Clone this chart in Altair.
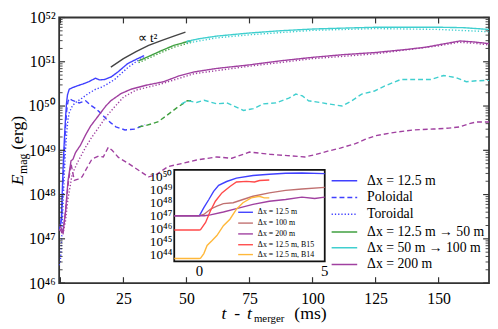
import altair as alt
import pandas as pd

# ---------------- main panel data: t - t_merger (ms), log10(E_mag / erg) ----------------
t_hr_tot = [-0.5, 0, 0.4, 0.8, 1.2, 1.6, 2.0, 2.4, 2.8, 3.5, 5, 7.4, 9, 11.3, 13.9, 15.5, 17.6, 20.2, 22.8, 26.7, 30.6, 33.2]
e_hr_tot = [47.3, 47.3, 47.45, 48.19, 48.8, 49.28, 49.7, 50.05, 50.25, 50.38, 50.42, 50.47, 50.5, 50.55, 50.63, 50.59, 50.6, 50.66, 50.77, 50.96, 51.07, 51.14]
t_hr_pol = [-0.5, 0, 0.5, 1, 1.5, 2, 2.5, 3, 3.5, 5, 7.4, 10, 12, 14, 16, 18, 20, 22, 25.6, 29.6, 33.6]
e_hr_pol = [47.2, 47.3, 47.5, 48.2, 48.9, 49.5, 49.9, 50.1, 50.17, 50.12, 50.07, 50.12, 50.02, 49.94, 49.84, 49.72, 49.62, 49.53, 49.46, 49.48, 49.58]
t_hr_tor = [-0.5, 0, 0.5, 1, 1.5, 2, 2.5, 3, 3.5, 4.7, 6, 8.6, 11, 14, 16.5, 19, 21.5, 24, 27, 30, 33]
e_hr_tor = [46.4, 46.5, 47.0, 47.7, 48.4, 49.0, 49.4, 49.7, 49.85, 50.0, 50.08, 50.18, 50.28, 50.38, 50.43, 50.51, 50.6, 50.73, 50.88, 51.0, 51.1]

t_g_tot = [31, 35, 40, 45, 50, 52]
e_g_tot = [51.02, 51.12, 51.25, 51.37, 51.45, 51.48]
t_g_pol = [31, 34, 38.6, 42, 46.4, 50.4, 52]
e_g_pol = [49.53, 49.56, 49.64, 49.78, 49.97, 50.12, 50.12]
t_g_tor = [31, 35, 40, 45, 52]
e_g_tor = [50.98, 51.08, 51.21, 51.33, 51.44]

t_c_tot = [50, 55, 62, 75, 87, 100, 112, 125, 137, 150, 160, 170]
e_c_tot = [51.46, 51.52, 51.58, 51.65, 51.7, 51.74, 51.76, 51.78, 51.78, 51.78, 51.77, 51.73]
t_c_pol = [48, 50.4, 54, 57, 62, 66, 72.6, 76.5, 80.5, 85.5, 90.6, 93.4, 96, 98.4, 104, 106, 111.7,
           115.6, 119.5, 124.6, 128.5, 135, 143, 147, 152, 157, 161, 165, 170]
e_c_pol = [50.05, 50.12, 50.08, 50.13, 50.05, 50.07, 49.9, 49.94, 50.05, 50.07, 50.18, 50.27, 50.23, 50.12, 50.07, 50.05, 50.0,
           50.12, 50.27, 50.34, 50.45, 50.6, 50.6, 50.6, 50.69, 50.64, 50.55, 50.57, 50.58]
t_c_tor = [50, 62, 75, 100, 125, 150, 170]
e_c_tor = [51.42, 51.54, 51.61, 51.71, 51.75, 51.73, 51.68]

t_p_tot = [-0.5, 0, 0.5, 1, 2, 3, 4.2, 5, 6, 8, 10, 12, 14, 16, 18, 20, 24, 28, 34, 41, 47, 53, 62, 75, 87, 100, 112, 125,
           137.5, 145, 150.7, 158.5, 163.6, 170]
e_p_tot = [47.3, 47.3, 47.2, 47.15, 47.6, 48.3, 48.76, 48.8, 48.95, 49.12, 49.35, 49.55, 49.7, 49.85, 50.0, 50.12, 50.28, 50.38,
           50.47, 50.55, 50.68, 50.77, 50.85, 50.93, 51.02, 51.1, 51.16, 51.21, 51.28, 51.33, 51.39, 51.47, 51.45, 51.41]
t_p_pol = [-0.5, 0, 1, 2, 3, 4.2, 5.5, 7, 8.6, 10.5, 12.5, 15.2, 17, 19, 20.5, 23, 27, 31, 35, 38, 42.6, 48, 54, 62, 68,
           75, 83, 90, 97, 101, 106, 111, 117, 121, 125, 132, 140, 148, 154, 158.5, 162, 165, 170]
e_p_pol = [47.2, 47.2, 47.1, 47.6, 48.2, 48.7, 48.32, 48.35, 48.4, 48.6, 48.8, 48.87, 48.85, 49.07, 49.0, 48.84, 48.7, 48.55,
           48.4, 48.45, 48.63, 48.7, 48.78, 48.85, 48.82, 48.96, 48.91, 48.88, 48.85, 48.9, 48.98, 49.05, 49.15, 49.25, 49.33,
           49.4, 49.46, 49.48, 49.5, 49.53, 49.6, 49.64, 49.64]
t_p_tor = [-0.5, 0, 1, 2, 3, 4.7, 7, 10, 12.5, 15, 18, 21, 25, 30, 40, 53, 75, 100, 125, 150, 158, 164, 170]
e_p_tor = [47.2, 47.2, 47.1, 47.4, 47.9, 48.47, 48.75, 49.07, 49.3, 49.5, 49.75, 49.95, 50.2, 50.36, 50.5, 50.73, 50.9,
           51.07, 51.18, 51.36, 51.44, 51.42, 51.38]

# t^2 guide line
t_guide = [20, 25, 30, 35, 40, 45, 49.6]
e_guide = [50.88, 51.07, 51.23, 51.37, 51.48, 51.58, 51.67]

# ---------------- inset data ----------------
ti_hr = [-1, -0.5, 0, 0.18, 0.38, 0.57, 0.77, 1.09, 1.48, 2.14, 2.79, 3.44, 4.09, 5]
ei_hr = [46.99, 46.99, 47.0, 47.62, 48.25, 48.88, 49.34, 49.64, 49.9, 50.1, 50.2, 50.28, 50.3, 50.25]
ti_100 = [-1, 0, 0.18, 0.44, 0.7, 0.96, 1.35, 1.74, 2.14, 2.79, 3.44, 4.09, 5]
ei_100 = [47.0, 47.0, 47.1, 47.5, 47.74, 47.93, 48.0, 48.25, 48.5, 48.76, 48.96, 49.06, 49.19]
ti_200 = [-1, 0, 0.2, 0.44, 0.96, 1.48, 2.14, 2.79, 3.44, 4.09, 4.6, 5]
ei_200 = [47.0, 47.0, 47.0, 47.07, 47.29, 47.55, 47.87, 48.12, 48.25, 48.43, 48.33, 48.43]
ti_b15 = [-1, 0, 0.05, 0.25, 0.44, 0.64, 0.9, 1.22, 1.48, 1.88, 2.2, 2.4, 2.79]
ei_b15 = [45.9, 45.9, 45.92, 46.48, 47.37, 48.12, 48.76, 49.26, 49.6, 49.65, 49.6, 49.72, 49.76]
ti_b14 = [-1, 0, 0.05, 0.18, 0.31, 0.51, 0.7, 0.96, 1.22, 1.48, 1.74, 2.07, 2.39, 2.59, 2.79]
ei_b14 = [43.7, 43.7, 43.72, 44.08, 44.71, 45.09, 45.47, 46.23, 46.73, 47.5, 48.0, 48.38, 48.5, 48.38, 48.38]

# ---------------- labels / ticks ----------------
main_legend_labels = ["Δx = 12.5 m", "Poloidal", "Toroidal", "Δx = 12.5 m → 50 m", "Δx = 50 m → 100 m", "Δx = 200 m"]
inset_legend_labels = ["Δx = 12.5 m", "Δx = 100 m", "Δx = 200 m", "Δx = 12.5 m, B15", "Δx = 12.5 m, B14"]
x_ticks = [0, 25, 50, 75, 100, 125, 150]
y_exps = [46, 47, 48, 49, 50, 51, 52]
inset_exps = [44, 45, 46, 47, 48, 49, 50]
inset_x_ticks = [0, 5]

SUP = str.maketrans("0123456789", "⁰¹²³⁴⁵⁶⁷⁸⁹")
def sup_label(e):
    return "10" + str(e).translate(SUP)

BLUE, GREEN, CYAN, PURPLE = "#4040ff", "#40a040", "#40cfcf", "#a040a0"
RED, BROWN, ORANGE = "#ff4a4a", "#c07070", "#ffb83a"
SOLID, DASHED, DOTTED = [1, 0], [5, 3], [1.3, 2]
FONT = "Liberation Serif"

W, H = 437, 270

# ---------------- build main long table ----------------
series = [
    ("hr_tot", t_hr_tot, e_hr_tot, BLUE, SOLID), ("hr_pol", t_hr_pol, e_hr_pol, BLUE, DASHED),
    ("hr_tor", t_hr_tor, e_hr_tor, BLUE, DOTTED),
    ("g_tot", t_g_tot, e_g_tot, GREEN, SOLID), ("g_pol", t_g_pol, e_g_pol, GREEN, DASHED),
    ("g_tor", t_g_tor, e_g_tor, GREEN, DOTTED),
    ("c_tot", t_c_tot, e_c_tot, CYAN, SOLID), ("c_pol", t_c_pol, e_c_pol, CYAN, DASHED),
    ("c_tor", t_c_tor, e_c_tor, CYAN, DOTTED),
    ("p_tot", t_p_tot, e_p_tot, PURPLE, SOLID), ("p_pol", t_p_pol, e_p_pol, PURPLE, DASHED),
    ("p_tor", t_p_tor, e_p_tor, PURPLE, DOTTED),
]
rows = []
for key, ts, es, _, _ in series:
    for t, e in zip(ts, es):
        rows.append({"t": t, "E": 10.0 ** e, "key": key})
main_df = pd.DataFrame(rows)

xs = alt.Scale(domain=[-0.5, 170], nice=False, zero=False)
ys = alt.Scale(type="log", domain=[1e46, 1e52], nice=False)

one = pd.DataFrame({"d": [0]})

lines = alt.Chart(main_df).mark_line(strokeWidth=1.4, clip=True).encode(
    x=alt.X("t:Q", scale=xs, axis=alt.Axis(values=x_ticks, ticks=False, domain=False, grid=False, title=None,
                                            labelFont=FONT, labelFontSize=16, labelPadding=8, labelColor="#000")),
    y=alt.Y("E:Q", scale=ys, axis=alt.Axis(values=[10.0 ** e for e in y_exps], ticks=False, domain=False, grid=False,
                                            title=None, labelFont=FONT, labelFontSize=16, labelPadding=4,
                                            labelColor="#000",
                                            labelExpr="[" + ",".join("'%s'" % sup_label(e) for e in y_exps) +
                                                      "][round(log(datum.value)/LN10)-46]")),
    color=alt.Color("key:N", scale=alt.Scale(domain=[s[0] for s in series], range=[s[3] for s in series]), legend=None),
    strokeDash=alt.StrokeDash("key:N", scale=alt.Scale(domain=[s[0] for s in series], range=[s[4] for s in series]),
                              legend=None),
)

guide = alt.Chart(pd.DataFrame({"t": t_guide, "E": [10.0 ** e for e in e_guide]})).mark_line(
    color="#444444", strokeWidth=1.4).encode(x=alt.X("t:Q", scale=xs), y=alt.Y("E:Q", scale=ys))
guide_txt = alt.Chart(pd.DataFrame({"t": [34.6], "E": [10.0 ** 51.54], "s": ["∝ t²"]})).mark_text(
    font=FONT, fontSize=13, color="#000").encode(x=alt.X("t:Q", scale=xs), y=alt.Y("E:Q", scale=ys), text="s:N")

# inward ticks
TC = "#333333"
major_y = pd.DataFrame({"E": [10.0 ** e for e in y_exps]})
minor_y = pd.DataFrame({"E": [m * 10.0 ** e for e in y_exps[:-1] for m in range(2, 10)]})
xt = pd.DataFrame({"t": x_ticks})
ticks = [
    alt.Chart(major_y).mark_rule(color=TC, strokeWidth=1.2).encode(y=alt.Y("E:Q", scale=ys), x=alt.value(0), x2=alt.value(6)),
    alt.Chart(major_y).mark_rule(color=TC, strokeWidth=1.2).encode(y=alt.Y("E:Q", scale=ys), x=alt.value(W), x2=alt.value(W - 6)),
    alt.Chart(minor_y).mark_rule(color=TC, strokeWidth=0.9).encode(y=alt.Y("E:Q", scale=ys), x=alt.value(0), x2=alt.value(3.5)),
    alt.Chart(minor_y).mark_rule(color=TC, strokeWidth=0.9).encode(y=alt.Y("E:Q", scale=ys), x=alt.value(W), x2=alt.value(W - 3.5)),
    alt.Chart(xt).mark_rule(color=TC, strokeWidth=1.2).encode(x=alt.X("t:Q", scale=xs), y=alt.value(H), y2=alt.value(H - 6)),
    alt.Chart(xt).mark_rule(color=TC, strokeWidth=1.2).encode(x=alt.X("t:Q", scale=xs), y=alt.value(0), y2=alt.value(6)),
]

# main legend
leg_colors = [BLUE, BLUE, BLUE, GREEN, CYAN, PURPLE]
leg_dash = [SOLID, DASHED, DOTTED, SOLID, SOLID, SOLID]
leg_y = [166, 183, 200, 218, 234, 251]
legend_layers = []
for lab, c, d, yy in zip(main_legend_labels, leg_colors, leg_dash, leg_y):
    legend_layers.append(alt.Chart(one).mark_rule(color=c, strokeDash=d, strokeWidth=1.5).encode(
        x=alt.value(277), x2=alt.value(303), y=alt.value(yy)))
    legend_layers.append(alt.Chart(one).mark_text(text=lab, align="left", baseline="middle", font=FONT,
                                                  fontSize=14, color="#000").encode(x=alt.value(313), y=alt.value(yy)))

# axis titles
def txt(s, x, y, size, style="normal", angle=0, align="left", baseline="alphabetic"):
    return alt.Chart(one).mark_text(text=s, font=FONT, fontSize=size, fontStyle=style, angle=angle, align=align,
                                    baseline=baseline, color="#000").encode(x=alt.value(x), y=alt.value(y))

titles = [
    txt("E", -37, 170.5, 18, "italic", 270),
    txt("mag", -33, 159, 12, "normal", 270),
    txt("(erg)", -37, 134.5, 18, "normal", 270),
    txt("t", 165, 307, 18, "italic"),
    txt("-", 178, 307, 18),
    txt("t", 191, 307, 18, "italic"),
    txt("merger", 198, 310, 11),
    txt("(ms)", 239, 307, 18),
]

main = alt.layer(lines, guide, guide_txt, *ticks, *legend_layers, *titles)

# ---------------- inset ----------------
IX0, IX1, IY0, IY1 = 117, 270, 155, 248
ixs = alt.Scale(domain=[-1, 5], range=[IX0, IX1], nice=False, zero=False)
iys = alt.Scale(type="log", domain=[10 ** 43.47, 10 ** 50.53], range=[IY1, IY0], nice=False)

inset_series = [("i_hr", ti_hr, ei_hr, BLUE), ("i_100", ti_100, ei_100, BROWN), ("i_200", ti_200, ei_200, PURPLE),
                ("i_b15", ti_b15, ei_b15, RED), ("i_b14", ti_b14, ei_b14, ORANGE)]
irows = []
for key, ts, es, _ in inset_series:
    for t, e in zip(ts, es):
        irows.append({"t": t, "E": 10.0 ** e, "key": key})
inset_df = pd.DataFrame(irows)

bg = alt.Chart(one).mark_rect(fill="white", stroke="#111", strokeWidth=1.8).encode(
    x=alt.value(IX0), x2=alt.value(IX1), y=alt.value(IY0), y2=alt.value(IY1))
ilines = alt.Chart(inset_df).mark_line(strokeWidth=1.4).encode(
    x=alt.X("t:Q", scale=ixs, axis=None),
    y=alt.Y("E:Q", scale=iys, axis=None),
    color=alt.Color("key:N", scale=alt.Scale(domain=[s[0] for s in inset_series], range=[s[3] for s in inset_series]),
                    legend=None),
)
iylab = alt.Chart(pd.DataFrame({"E": [10.0 ** e for e in inset_exps], "s": [sup_label(e) for e in inset_exps]})).mark_text(
    font=FONT, fontSize=13.5, align="right", baseline="middle", color="#000").encode(
    y=alt.Y("E:Q", scale=iys, axis=None), x=alt.value(IX0 - 2), text="s:N")
ixlab = alt.Chart(pd.DataFrame({"t": inset_x_ticks, "s": [str(v) for v in inset_x_ticks]})).mark_text(
    font=FONT, fontSize=15, align="center", baseline="middle", color="#000").encode(
    x=alt.X("t:Q", scale=ixs, axis=None), y=alt.value(IY1 + 10), text="s:N")

ileg = []
ileg_colors = [BLUE, BROWN, PURPLE, RED, ORANGE]
ileg_y = [198, 209, 220, 231, 241]
for lab, c, yy in zip(inset_legend_labels, ileg_colors, ileg_y):
    ileg.append(alt.Chart(one).mark_rule(color=c, strokeWidth=1.4).encode(
        x=alt.value(182), x2=alt.value(197), y=alt.value(yy)))
    ileg.append(alt.Chart(one).mark_text(text=lab, align="left", baseline="middle", font=FONT, fontSize=8,
                                         color="#000").encode(x=alt.value(202), y=alt.value(yy)))

inset = alt.layer(bg, ilines, iylab, ixlab, *ileg)

chart = alt.layer(main, inset).resolve_scale(
    x="independent", y="independent", color="independent", strokeDash="independent"
).properties(
    width=W, height=H, padding={"left": 52, "top": 7, "right": 1, "bottom": 44},
    autosize=alt.AutoSizeParams(type="none"),
).configure_view(stroke="#333333", strokeWidth=1.8)

chart.save("out.html", embed_options={"renderer": "svg", "actions": False})
